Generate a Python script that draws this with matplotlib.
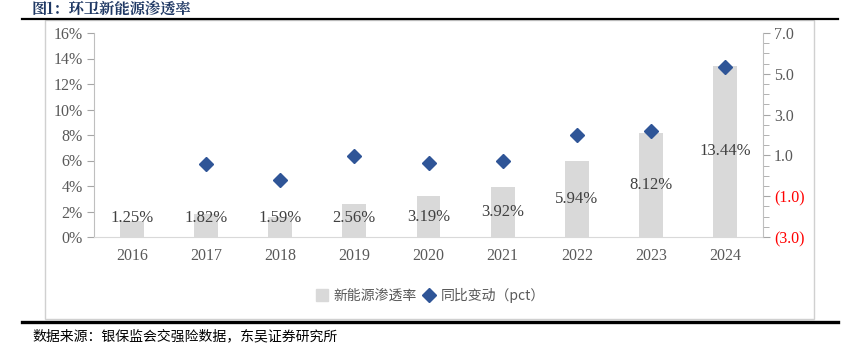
import matplotlib
matplotlib.use("Agg")
import matplotlib.pyplot as plt
from matplotlib.patches import Rectangle
from matplotlib.lines import Line2D
from matplotlib.ticker import MultipleLocator, FuncFormatter, FixedLocator

plt.rcParams['font.family'] = ['Noto Sans CJK SC', 'DejaVu Sans']

years = ["2016", "2017", "2018", "2019", "2020", "2021", "2022", "2023", "2024"]
penetration = [1.25, 1.82, 1.59, 2.56, 3.19, 3.92, 5.94, 8.12, 13.44]
yoy_change = [None, 0.57, -0.23, 0.97, 0.63, 0.73, 2.02, 2.18, 5.32]
right_ticks = [-3, -1, 1, 3, 5, 7]

W, H = 865, 360
fig = plt.figure(figsize=(W / 100, H / 100), dpi=100)

def fx(px):
    return px / W

def fy(py):
    return 1 - py / H

# frame box
fig.patches.append(Rectangle((fx(45), fy(319)), fx(814) - fx(45), fy(20) - fy(319),
                             transform=fig.transFigure, fill=False,
                             edgecolor='#d0d0d0', linewidth=1.0))
# top and bottom rules
fig.add_artist(Line2D([fx(22), fx(838)], [fy(18.5), fy(18.5)], transform=fig.transFigure,
                      color='black', linewidth=1.6))
fig.add_artist(Line2D([fx(22), fx(838)], [fy(322), fy(322)], transform=fig.transFigure,
                      color='black', linewidth=2.4))

fig.text(fx(32), fy(14), "图1：环卫新能源渗透率", fontsize=11, fontweight='bold',
         color='#1f3864', ha='left', va='baseline',
         family=['Noto Serif CJK SC', 'Noto Sans CJK SC', 'DejaVu Sans'])
fig.text(fx(32), fy(336), "数据来源：银保监会交强险数据，东吴证券研究所", fontsize=10,
         color='black', ha='left', va='center')

ax = fig.add_axes([fx(94), fy(237), fx(763) - fx(94), fy(33) - fy(237)])
ax2 = ax.twinx()

x = list(range(len(years)))
ax.bar(x, penetration, width=0.32, color='#d9d9d9', zorder=2)
ax.set_xlim(-0.51, len(years) - 0.49)
ax.set_ylim(0, 16)
ax.yaxis.set_major_locator(MultipleLocator(2))
ax.yaxis.set_major_formatter(FuncFormatter(lambda v, p: f"{v:.0f}%"))
ax.set_xticks(x)
ax.set_xticklabels(years)

serif = ['Liberation Serif', 'DejaVu Serif']
for lab in ax.get_xticklabels() + ax.get_yticklabels():
    lab.set_family(serif)
    lab.set_fontsize(11.5)
    lab.set_color('#595959')

ax.tick_params(axis='x', length=0, pad=8)
ax.tick_params(axis='y', direction='out', length=5, color='#a6a6a6', pad=3)
for s in ['top', 'right']:
    ax.spines[s].set_visible(False)
ax.spines['left'].set_color('#bfbfbf')
ax.spines['bottom'].set_color('#d9d9d9')

for xi, v in zip(x, penetration):
    ax.text(xi, max(v / 2, 1.5), f"{v:.2f}%", ha='center', va='center',
            fontsize=12, color='#404040', family=serif, zorder=4)

xs = [xi for xi, v in zip(x, yoy_change) if v is not None]
vs = [v for v in yoy_change if v is not None]
ax2.plot(xs, vs, linestyle='none', marker='D', markersize=7.5, color='#2f5597', zorder=5)
ax2.set_ylim(-3, 7)
ax2.yaxis.set_major_locator(FixedLocator(right_ticks))
ax2.yaxis.set_minor_locator(MultipleLocator(0.5))

def rfmt(v, p):
    return f"({abs(v):.1f})" if v < 0 else f"{v:.1f}"

ax2.yaxis.set_major_formatter(FuncFormatter(rfmt))
ax2.tick_params(axis='y', which='major', direction='out', length=5, color='#a6a6a6', pad=3)
ax2.tick_params(axis='y', which='minor', direction='out', length=4, color='#a6a6a6')
for s in ['top', 'left', 'bottom']:
    ax2.spines[s].set_visible(False)
ax2.spines['right'].set_color('#bfbfbf')
fig.canvas.draw()
for t, lab in zip(ax2.get_yticks(), ax2.get_yticklabels()):
    lab.set_family(serif)
    lab.set_fontsize(11.5)
    lab.set_color('#ff0000' if t < 0 else '#595959')

handles = [Line2D([], [], linestyle='none', marker='s', markersize=8, color='#d9d9d9'),
           Line2D([], [], linestyle='none', marker='D', markersize=7, color='#2f5597')]
fig.legend(handles, ["新能源渗透率", "同比变动（pct）"], loc='center',
           bbox_to_anchor=(fx(430), fy(295)), ncol=2, frameon=False,
           fontsize=10, labelcolor='#595959', handletextpad=0.3, columnspacing=0.4,
           handlelength=1.0)

fig.savefig("out.png", dpi=100)
